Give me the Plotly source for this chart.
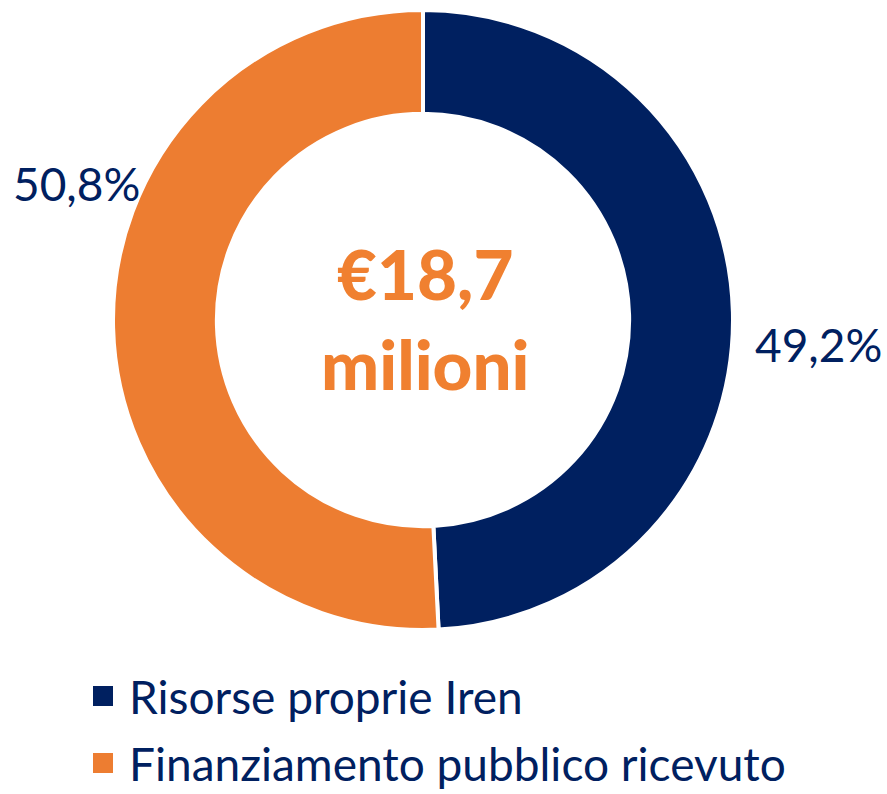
import plotly.graph_objects as go

# Funding split for the project
categories = ["Risorse proprie Iren", "Finanziamento pubblico ricevuto"]
shares = [49.2, 50.8]
colors = ["#002060", "#ED7D31"]
total_label = "€18,7<br>milioni"

W, H = 887, 794
font_family = "Lato"
navy = "#002060"


def px_x(x):
    return x / W


def px_y(y):
    return 1 - y / H


fig = go.Figure(
    go.Pie(
        labels=categories,
        values=shares,
        sort=False,
        direction="clockwise",
        rotation=0,
        hole=0.665,
        marker=dict(colors=colors, line=dict(color="white", width=4)),
        textinfo="none",
        hoverinfo="label+percent",
        showlegend=False,
        domain=dict(x=[px_x(113), px_x(733)], y=[px_y(630), px_y(10)]),
    )
)

annotations = []

# Centre total
annotations.append(dict(
    x=px_x(425), y=px_y(318), xref="paper", yref="paper",
    text=total_label, showarrow=False,
    font=dict(family=font_family, size=69, color="#F08030", weight=900),
    xanchor="center", yanchor="middle",
))


def fmt(v):
    return f"{v:.1f}".replace(".", ",") + "%"


# Percentage labels beside the ring
label_pos = [(818, 345), (76, 183)]
for v, (lx, ly) in zip(shares, label_pos):
    annotations.append(dict(
        x=px_x(lx), y=px_y(ly), xref="paper", yref="paper",
        text=fmt(v), showarrow=False,
        font=dict(family=font_family, size=46, color=navy),
        xanchor="center", yanchor="middle",
    ))

# Legend rows: coloured square + category name
shapes = []
legend_rows = [696, 763]
for name, col, ry in zip(categories, colors, legend_rows):
    shapes.append(dict(
        type="rect", xref="paper", yref="paper",
        x0=px_x(93), x1=px_x(113), y0=px_y(ry + 10), y1=px_y(ry - 10),
        fillcolor=col, line=dict(width=0),
    ))
    annotations.append(dict(
        x=px_x(127), y=px_y(ry), xref="paper", yref="paper",
        text=name, showarrow=False,
        font=dict(family=font_family, size=46, color=navy),
        xanchor="left", yanchor="middle",
    ))

fig.update_layout(
    width=W, height=H,
    margin=dict(l=0, r=0, t=0, b=0),
    paper_bgcolor="white",
    plot_bgcolor="white",
    annotations=annotations,
    shapes=shapes,
)

fig.write_html("out.html")
